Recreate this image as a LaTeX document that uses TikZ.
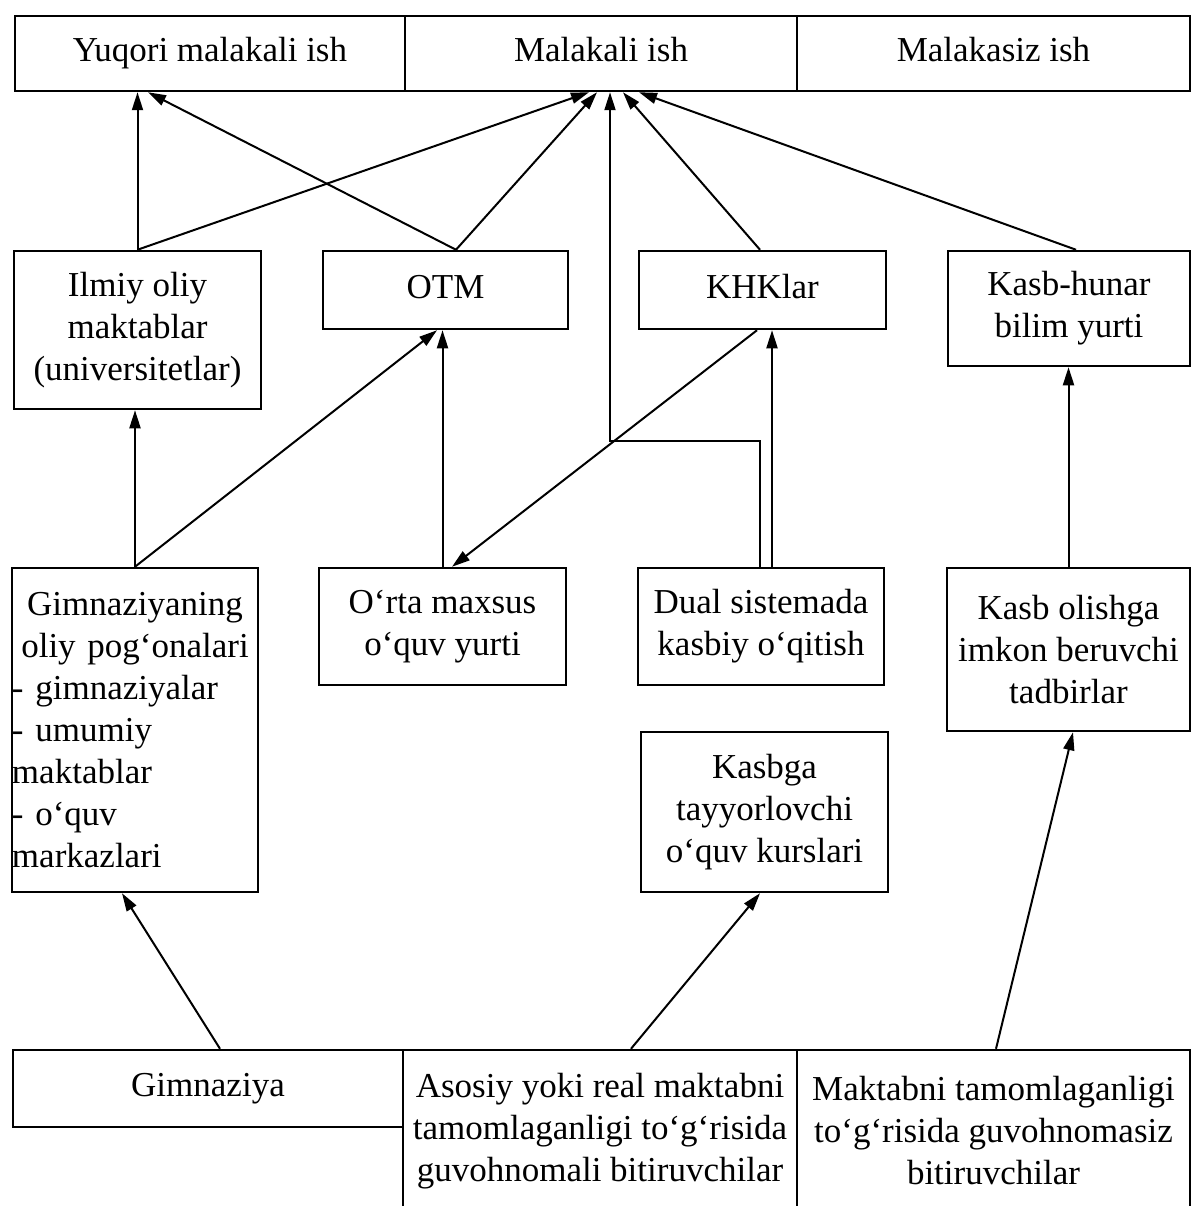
\documentclass[tikz,border=0pt]{standalone}
\usepackage{fontspec}
\setmainfont{Liberation Serif}
\usetikzlibrary{arrows.meta}
\tikzset{
  box/.style={draw, line width=2.5pt, inner sep=0pt, align=center,
    font=\fontsize{35}{42}\selectfont},
  one/.style={text height=24pt, text depth=7.5pt},
  arr/.style={line width=2pt, -{Triangle[length=18pt,width=11pt]}},
  ln/.style={line width=2pt}
}
\begin{document}
\begin{tikzpicture}[x=1pt,y=-1pt]
\useasboundingbox[fill=white] (0,0) rectangle (1192,1206);

% top row
\node[box,one,minimum width=390pt,minimum height=75pt] (top1) at (210,53.5) {Yuqori malakali ish};
\node[box,one,minimum width=392pt,minimum height=75pt] (top2) at (601,53.5) {Malakali ish};
\node[box,one,minimum width=393pt,minimum height=75pt] (top3) at (993.5,53.5) {Malakasiz ish};

% second row
\node[box,minimum width=247pt,minimum height=158pt] (ilmiy) at (137.5,330) {Ilmiy oliy\\maktablar\\(universitetlar)};
\node[box,one,minimum width=245pt,minimum height=78pt] (otm) at (445.5,290) {OTM};
\node[box,one,minimum width=247pt,minimum height=78pt] (khk) at (762.5,290) {KHKlar};
\node[box,minimum width=242pt,minimum height=115pt] (kasbh) at (1069,308.5) {Kasb-hunar\\bilim yurti};

% third row
\node[box,text width=246pt,align=left,minimum height=324pt] (gimn) at (135,730)
  {\makebox[246pt]{Gimnaziyaning}\\\makebox[246pt]{oliy pog‘onalari}\\- gimnaziyalar\\- umumiy\\maktablar\\- o‘quv\\markazlari};
\node[box,minimum width=247pt,minimum height=117pt] (orta) at (442.5,626.5) {O‘rta maxsus\\o‘quv yurti};
\node[box,minimum width=246pt,minimum height=117pt] (dual) at (761,626.5) {Dual sistemada\\kasbiy o‘qitish};
\node[box,minimum width=243pt,minimum height=163pt] (kasbo) at (1068.5,649.5) {Kasb olishga\\imkon beruvchi\\tadbirlar};
\node[box,minimum width=247pt,minimum height=160pt] (kasbga) at (764.5,812) {Kasbga\\tayyorlovchi\\o‘quv kurslari};

% bottom row
\node[box,one,minimum width=390pt,minimum height=77pt] (gim) at (208,1088.5) {Gimnaziya};
\node[box,minimum width=394pt,minimum height=162pt] (asos) at (600,1131) {Asosiy yoki real maktabni\\tamomlaganligi to‘g‘risida\\guvohnomali bitiruvchilar};
\node[box,minimum width=393pt,minimum height=162pt] (makt) at (993.5,1131) {Maktabni tamomlaganligi\\to‘g‘risida guvohnomasiz\\bitiruvchilar};

% helper coordinates
\coordinate (j) at (610,441);
\coordinate (d2) at ([xshift=11pt]dual.north);

% arrows to top row
\draw[arr] (ilmiy.north) -- (ilmiy.north |- top1.south);
\draw[arr] ([xshift=10.5pt]otm.north) -- ([xshift=-62pt]top1.south);
\draw[arr] (ilmiy.north) -- ([xshift=-12pt]top2.south);
\draw[arr] ([xshift=10.5pt]otm.north) -- ([xshift=-4pt]top2.south);
\draw[arr] ([xshift=-1pt]dual.north) |- (j) -- (j |- top2.south);
\draw[arr] ([xshift=-2.5pt]khk.north) -- ([xshift=22pt]top2.south);
\draw[arr] ([xshift=7pt]kasbh.north) -- ([xshift=38pt]top2.south);

% arrows to second row
\draw[arr] (gimn.north) -- (gimn.north |- ilmiy.south);
\draw[arr] (gimn.north) -- ([xshift=-8.5pt]otm.south);
\draw[arr] (orta.north) -- (orta.north |- otm.south);
\draw[arr] ([xshift=-5.5pt]khk.south) -- ([xshift=9.5pt]orta.north);
\draw[arr] (d2) -- (d2 |- khk.south);
\draw[arr] (kasbo.north) -- (kasbo.north |- kasbh.south);

% arrows from bottom row
\draw[arr] ([xshift=12pt]gim.north) -- ([xshift=-13pt]gimn.south);
\draw[arr] ([xshift=31pt]asos.north) -- ([xshift=-4.5pt]kasbga.south);
\draw[arr] ([xshift=2.5pt]makt.north) -- ([xshift=4.5pt]kasbo.south);
\end{tikzpicture}
\end{document}
